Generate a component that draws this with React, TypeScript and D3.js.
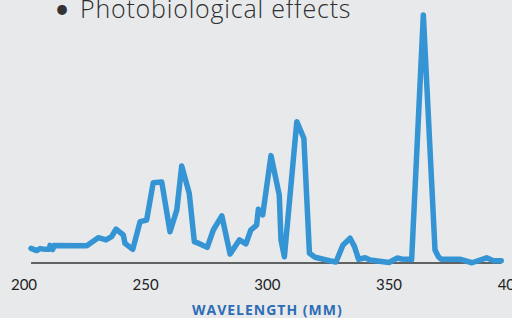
import * as React from "react";
import * as d3 from "d3";

// wavelength (nm) and relative intensity (peak = 100)
const wavelengths = [
  202.9, 205.2, 206.6, 208.6, 210.4, 210.7, 211.8, 212.3, 225.8, 230.5,
  233.7, 236.0, 237.8, 240.8, 241.5, 244.7, 247.7, 250.4, 253.1, 256.6,
  260.0, 262.8, 264.8, 267.9, 270.0, 272.3, 275.3, 277.8, 281.3, 284.7,
  288.5, 291.2, 293.2, 295.6, 296.3, 298.1, 301.5, 304.9, 305.6, 307.0,
  312.1, 315.0, 317.3, 319.6, 325.5, 328.2, 331.1, 334.0, 335.8, 337.5,
  340.2, 342.2, 350.0, 353.3, 355.2, 359.3, 364.1, 368.9, 370.3, 371.4,
  379.4, 384.1, 390.1, 392.9, 396.1,
];
const intensity = [
  5.9, 5.0, 5.8, 5.5, 5.5, 7.1, 5.5, 7.1, 7.0, 10.2,
  9.3, 10.6, 13.7, 11.3, 7.9, 5.5, 16.7, 17.3, 32.4, 32.7,
  12.6, 21.4, 39.1, 28.1, 8.6, 7.7, 6.3, 13.3, 19.0, 3.6,
  9.3, 7.7, 13.3, 15.3, 21.7, 19.4, 43.3, 27.4, 9.3, 2.5,
  57.0, 50.3, 3.9, 2.3, 0.9, 0.4, 7.3, 10.0, 6.6, 1.5,
  2.1, 1.2, 0.2, 2.0, 1.6, 1.4, 100, 5.2, 2.5, 1.5,
  1.5, 0.1, 2.1, 0.9, 0.9,
];
const xTicks = [200, 250, 300, 350, 400];
const title = "Photobiological effects";
const xLabel = "WAVELENGTH (MM)";

const width = 512;
const height = 318;

export default function App() {
  const x = d3.scaleLinear().domain([200, 400]).range([24, 510.7]);
  const y = d3.scaleLinear().domain([0, 100]).range([263, 15]);

  const pts: [number, number][] = wavelengths.map((w, i) => [w, intensity[i]]);
  const line = d3
    .line<[number, number]>()
    .x((d) => x(d[0]))
    .y((d) => y(d[1]));

  const x0 = x(wavelengths[0]);
  const x1 = x(wavelengths[wavelengths.length - 1]);

  return (
    <>
      <style>{`body{margin:0;background:#e8e9eb}`}</style>
      <svg width={width} height={height} style={{ display: "block" }}>
        <rect width={width} height={height} fill="#e8e9eb" />
        <text x={62} y={18} fontFamily="Lato" fontSize={26} fill="#333" textAnchor="middle">
          •
        </text>
        <text
          x={80}
          y={18}
          fontFamily="Open Sans"
          fontWeight={300}
          fontSize={25}
          letterSpacing={0.8}
          fill="#2e2e2e"
        >
          {title}
        </text>
        <line x1={x0} x2={x1} y1={y(0)} y2={y(0)} stroke="#333" strokeWidth={1.3} />
        <path
          d={line(pts) || ""}
          fill="none"
          stroke="#3594d4"
          strokeWidth={5.5}
          strokeLinejoin="round"
          strokeLinecap="round"
        />
        {xTicks.map((t) => (
          <text
            key={t}
            x={x(t)}
            y={290}
            textAnchor="middle"
            fontFamily="Lato"
            fontSize={15}
            fill="#222"
          >
            {t}
          </text>
        ))}
        <text
          x={x(300)}
          y={315}
          textAnchor="middle"
          fontFamily="Open Sans"
          fontWeight="bold"
          fontSize={14}
          letterSpacing={1}
          fill="#2c6db5"
        >
          {xLabel}
        </text>
      </svg>
    </>
  );
}
